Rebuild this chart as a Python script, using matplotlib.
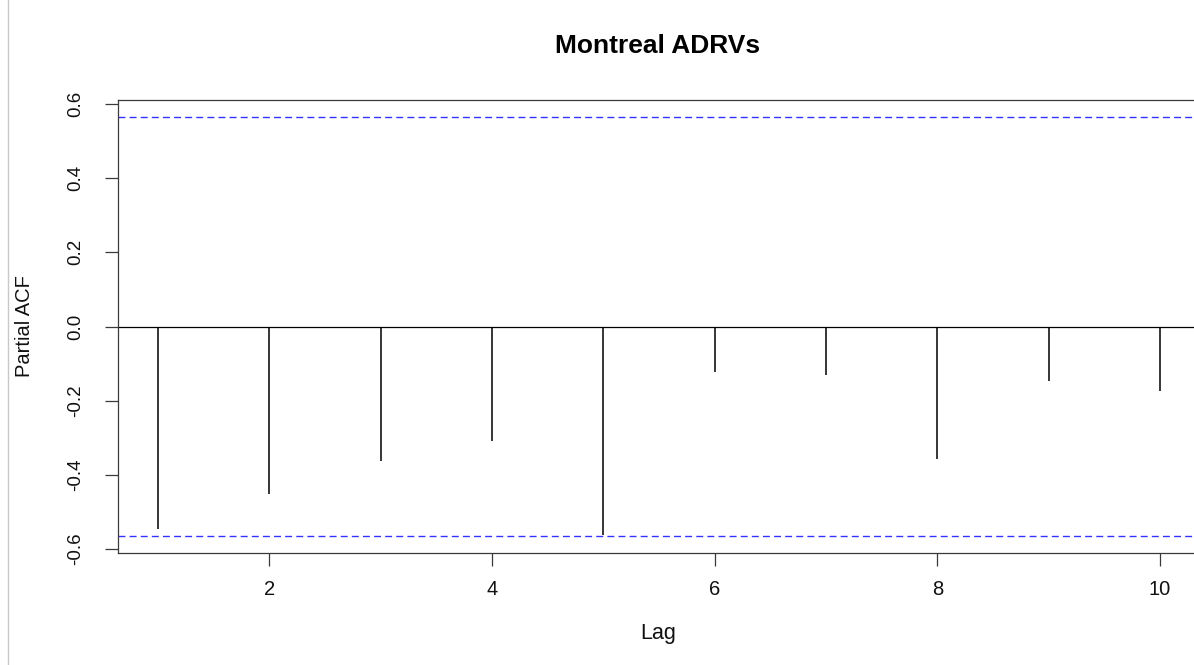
import matplotlib
matplotlib.use("Agg")
import matplotlib.pyplot as plt
from matplotlib.lines import Line2D

plt.rcParams['font.family'] = ['Liberation Sans', 'DejaVu Sans']
plt.rcParams['lines.scale_dashes'] = False

# Data
lags = [1, 2, 3, 4, 5, 6, 7, 8, 9, 10]
pacf = [-0.546, -0.452, -0.362, -0.310, -0.562, -0.124, -0.131, -0.358, -0.148, -0.174]
conf_limit = 0.5658  # 1.96/sqrt(12)
xticks = [2, 4, 6, 8, 10]
yticks = [-0.6, -0.4, -0.2, 0.0, 0.2, 0.4, 0.6]
ytick_labels = ["-0.6", "-0.4", "-0.2", "0.0", "0.2", "0.4", "0.6"]

W, H = 1194, 665
fig = plt.figure(figsize=(W / 100, H / 100), dpi=100)
fig.patch.set_facecolor('white')

left, right, top, bottom = 118, 1200, 100, 553
ax = fig.add_axes([left / W, 1 - bottom / H, (right - left) / W, (bottom - top) / H])

frame_col = '#3a3a3a'
ax.vlines(lags, 0, pacf, colors='black', linewidth=1.1)
ax.axhline(0, color='black', linewidth=0.9)
for s in (conf_limit, -conf_limit):
    ax.axhline(s, color='#3333ff', linewidth=1.0, dashes=(5.0, 3.0))

ax.set_xlim(0.64, 10.36)
ax.set_ylim(-0.611, 0.611)

ax.set_xticks(xticks)
ax.set_xticklabels([str(t) for t in xticks])
ax.set_yticks(yticks)
ax.set_yticklabels(ytick_labels)

for sp in ax.spines.values():
    sp.set_color(frame_col)
    sp.set_linewidth(0.9)

ax.tick_params(axis='x', length=9.4, width=0.9, color=frame_col, pad=10,
               labelsize=14.5, labelcolor='#111111')
ax.tick_params(axis='y', length=9.4, width=0.9, color=frame_col, pad=15,
               labelsize=13.5, labelcolor='#111111', labelrotation=90)
for lab in ax.get_yticklabels():
    lab.set_va('center')
    lab.set_ha('right')

fig.text(658 / W, 1 - 46 / H, "Montreal ADRVs", ha='center', va='center',
         fontsize=19, fontweight='bold', color='black')
fig.text(658 / W, 1 - 633 / H, "Lag", ha='center', va='center',
         fontsize=15.5, color='#111111')
fig.text(25 / W, 1 - 326.5 / H, "Partial ACF", ha='center', va='center',
         rotation=90, fontsize=14.5, color='#111111')

# thin light-gray vertical border line at the left edge of the picture
fig.add_artist(Line2D([7.5 / W, 7.5 / W], [0, 1], transform=fig.transFigure,
                      color='#c8c8c8', linewidth=1.0))

fig.savefig('out.png', dpi=100, facecolor='white')
